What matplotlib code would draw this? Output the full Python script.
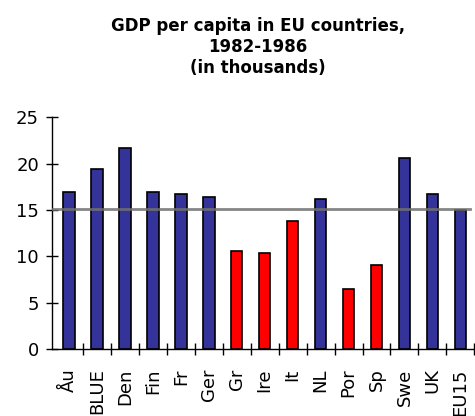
import matplotlib.pyplot as plt
import numpy as np

countries = ['Åu', 'BLUE', 'Den', 'Fin', 'Fr', 'Ger', 'Gr', 'Ire', 'It', 'NL',
             'Por', 'Sp', 'Swe', 'UK', 'EU15']
gdp = [16.9, 19.4, 21.7, 16.9, 16.7, 16.4, 10.6, 10.35, 13.8, 16.15,
       6.5, 9.05, 20.6, 16.7, 15.0]
below_avg = ['Gr', 'Ire', 'It', 'Por', 'Sp']
eu_avg = 15.1

colors = ['#ff0000' if c in below_avg else '#333399' for c in countries]
x = np.arange(len(countries))

fig = plt.figure(figsize=(4.75, 4.16), dpi=100)
ax = fig.add_axes([52.3 / 475, 67 / 416, 422 / 475, 231.7 / 416])

ax.bar(x, gdp, width=0.41, color=colors, edgecolor='black', linewidth=1.2, zorder=2)
# EU average line
ax.plot([-0.6, 14.35], [eu_avg, eu_avg], color='#707070', linewidth=2, alpha=0.85, zorder=3)

ax.set_xlim(-0.6, 14.5)
ax.set_ylim(0, 25)
ax.set_yticks([0, 5, 10, 15, 20, 25])
ax.tick_params(axis='y', direction='inout', length=9, width=1, labelsize=13, pad=5)

ax.set_xticks(x)
ax.set_xticklabels(countries, rotation=90, fontsize=13, va='top')
ax.tick_params(axis='x', which='major', length=0, pad=14)
ax.set_xticks(np.arange(0.5, 15, 1), minor=True)
ax.tick_params(axis='x', which='minor', direction='inout', length=8, width=1)

for s in ['top', 'right']:
    ax.spines[s].set_visible(False)
ax.spines['left'].set_linewidth(1)
ax.spines['bottom'].set_linewidth(1)

fig.text(0.543, 0.958, 'GDP per capita in EU countries,\n1982-1986\n(in thousands)',
         ha='center', va='top', fontsize=12, fontweight='bold', linespacing=1.2)

fig.savefig('out.png', dpi=100)
